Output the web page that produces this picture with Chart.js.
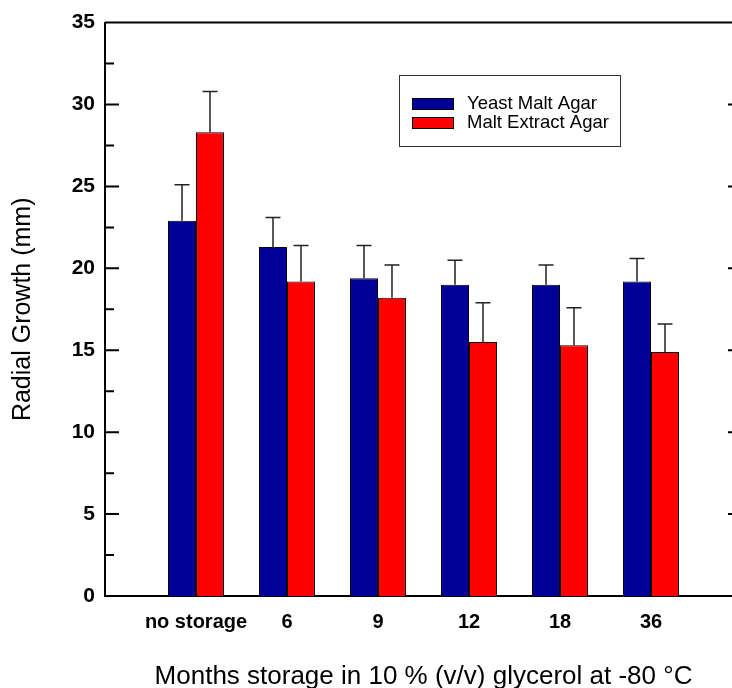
<!DOCTYPE html>
<html>
<head>
<meta charset="utf-8">
<script src="https://cdn.jsdelivr.net/npm/chart.js@4.4.1/dist/chart.umd.min.js"></script>
<style>
  html, body { margin: 0; padding: 0; background: #fff; }
  #wrap { width: 732px; height: 688px; overflow: hidden; }
  #myChart { display: block; }
</style>
</head>
<body>
<div id="wrap"><canvas id="myChart" width="760" height="688"></canvas></div>
<script>
// values (mm)
var categories = ["no storage", "6", "9", "12", "18", "36"];
var yeastMalt = [22.9, 21.3, 19.4, 19.0, 19.0, 19.2];
var yeastMaltErr = [2.2, 1.8, 2.0, 1.5, 1.2, 1.4];
var maltExtract = [28.3, 19.2, 18.2, 15.5, 15.3, 14.9];
var maltExtractErr = [2.5, 2.2, 2.0, 2.4, 2.3, 1.7];
var yTicks = [0, 5, 10, 15, 20, 25, 30, 35];

var FONT = "Arial, 'Liberation Sans', sans-serif";

/**
 * adds an empty slot at both ends so the groups sit like the original axis
 */
function pad(arr, blank) {
    return [blank].concat(arr, [blank]);
}

// error bars, only the upper half like the original
const errorBars = {
    id: "errorBars",
    afterDatasetsDraw(chart) {
        let ctx = chart.ctx;
        let yScale = chart.scales.y;
        chart.data.datasets.forEach((ds, i) => {
            let meta = chart.getDatasetMeta(i);
            meta.data.forEach((bar, j) => {
                let value = ds.data[j];
                if (value === null) return;
                let top = yScale.getPixelForValue(value + ds.errors[j]);
                ctx.save();
                ctx.strokeStyle = "#222";
                ctx.lineWidth = 1.5;
                ctx.beginPath();
                ctx.moveTo(bar.x, bar.y);
                ctx.lineTo(bar.x, top);
                ctx.moveTo(bar.x - 7.5, top);
                ctx.lineTo(bar.x + 7.5, top);
                ctx.stroke();
                ctx.restore();
            });
        });
    }
};

// box frame and inward tick marks
const frame = {
    id: "frame",
    afterDraw(chart) {
        let ctx = chart.ctx;
        let area = chart.chartArea;
        let yScale = chart.scales.y;
        ctx.save();
        ctx.strokeStyle = "#000";
        ctx.lineWidth = 2;
        ctx.beginPath();
        ctx.moveTo(area.left, area.top);
        ctx.lineTo(area.right, area.top);
        ctx.lineTo(area.right, area.bottom);
        for (let k = 0; k < yTicks.length; k++) {
            let y = yScale.getPixelForValue(yTicks[k]);
            ctx.moveTo(area.left, y);
            ctx.lineTo(area.left + 14, y);
            ctx.moveTo(area.right, y);
            ctx.lineTo(area.right - 14, y);
            if (k < yTicks.length - 1) {
                let ym = yScale.getPixelForValue((yTicks[k] + yTicks[k + 1]) / 2);
                ctx.moveTo(area.left, ym);
                ctx.lineTo(area.left + 9, ym);
                ctx.moveTo(area.right, ym);
                ctx.lineTo(area.right - 9, ym);
            }
        }
        ctx.stroke();
        ctx.restore();
    }
};

// boxed legend inside the plot
const boxLegend = {
    id: "boxLegend",
    afterDraw(chart) {
        let ctx = chart.ctx;
        ctx.save();
        ctx.fillStyle = "#fff";
        ctx.fillRect(399.5, 75.5, 221, 71);
        ctx.strokeStyle = "#333";
        ctx.lineWidth = 1;
        ctx.strokeRect(399.5, 75.5, 221, 71);
        ctx.font = "18.5px " + FONT;
        ctx.textBaseline = "middle";
        chart.data.datasets.forEach((ds, i) => {
            let yc = 104 + i * 19;
            ctx.fillStyle = ds.backgroundColor;
            ctx.fillRect(412, yc - 6, 42, 12);
            ctx.strokeStyle = "#000";
            ctx.strokeRect(412.5, yc - 5.5, 41, 11);
            ctx.fillStyle = "#000";
            ctx.fillText(ds.label, 467, yc);
        });
        ctx.restore();
    }
};

let data = {
    labels: pad(categories, ""),
    datasets: [{
        label: "Yeast Malt Agar",
        data: pad(yeastMalt, null),
        errors: pad(yeastMaltErr, null),
        backgroundColor: "#000099",
        borderColor: "#000",
        borderWidth: 1
    }, {
        label: "Malt Extract Agar",
        data: pad(maltExtract, null),
        errors: pad(maltExtractErr, null),
        backgroundColor: "#ff0000",
        borderColor: "#000",
        borderWidth: 1
    }]
};

let config = {
    type: "bar",
    data,
    options: {
        responsive: false,
        animation: false,
        devicePixelRatio: 1,
        categoryPercentage: 0.615,
        barPercentage: 1,
        layout: { padding: { top: 22, right: 18, left: 0, bottom: 0 } },
        plugins: {
            legend: { display: false },
            tooltip: { enabled: false }
        },
        scales: {
            x: {
                offset: false,
                grid: { display: false, drawTicks: false },
                border: { display: true, color: "#000", width: 2 },
                ticks: {
                    color: "#000",
                    autoSkip: false,
                    maxRotation: 0,
                    padding: 14,
                    font: { family: FONT, size: 20, weight: "bold" }
                },
                title: {
                    display: true,
                    text: "Months storage in 10 % (v/v) glycerol at -80 °C",
                    color: "#000",
                    padding: { top: 0, bottom: -4 },
                    font: { family: FONT, size: 26 }
                },
                afterFit: s => { s.height = 92; }
            },
            y: {
                min: yTicks[0],
                max: yTicks[yTicks.length - 1],
                grid: { display: false, drawTicks: false },
                border: { display: true, color: "#000", width: 2 },
                afterBuildTicks: s => { s.ticks = yTicks.map(v => ({ value: v })); },
                ticks: {
                    color: "#000",
                    padding: 10,
                    font: { family: FONT, size: 21, weight: "bold" }
                },
                title: {
                    display: true,
                    text: "Radial Growth (mm)",
                    color: "#000",
                    padding: { top: 8, bottom: 0 },
                    font: { family: FONT, size: 25 }
                },
                afterFit: s => { s.width = 105; }
            }
        }
    },
    plugins: [errorBars, frame, boxLegend]
};

var myChart = new Chart(document.getElementById("myChart"), config);
</script>
</body>
</html>
